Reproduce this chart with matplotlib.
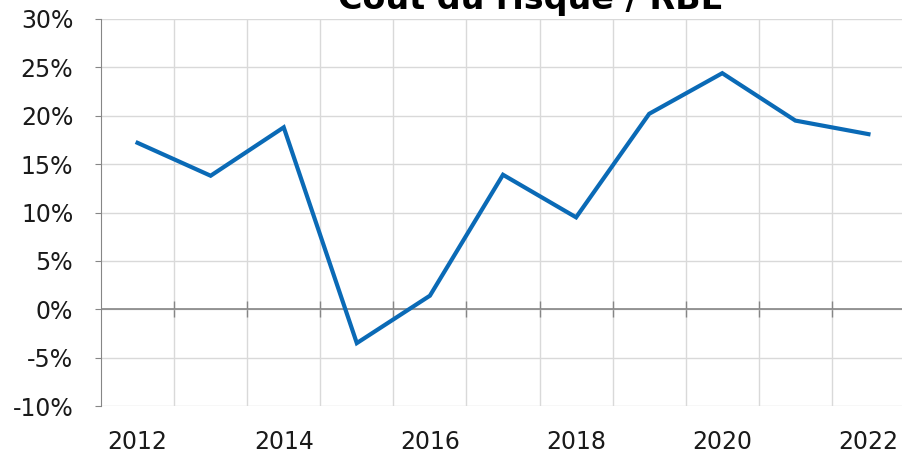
import matplotlib
matplotlib.use("Agg")
import matplotlib.pyplot as plt
import numpy as np

years = [2012, 2013, 2014, 2015, 2016, 2017, 2018, 2019, 2020, 2021, 2022]
values = [17.2, 13.8, 18.8, -3.5, 1.4, 13.9, 9.5, 20.2, 24.4, 19.5, 18.1]
y_ticks = [-10, -5, 0, 5, 10, 15, 20, 25, 30]
title = "Coût du risque / RBE"

W, H = 902, 454
fig = plt.figure(figsize=(W / 100, H / 100), dpi=100)
ax = fig.add_axes([101 / W, 48 / H, (905 - 101) / W, 387 / H])

pos = np.arange(len(years))
ax.plot(pos, values, color="#0a6ab6", lw=3.0, solid_joinstyle="miter", zorder=4)

ax.set_xlim(-0.5, len(years) - 0.5)
ax.set_ylim(y_ticks[0], y_ticks[-1])

grid_c = "#d9d9d9"
ax.set_yticks(y_ticks)
ax.set_yticklabels([f"{t}%" for t in y_ticks])
ax.yaxis.grid(True, color=grid_c, lw=1.0)
bounds = pos[:-1] + 0.5
for b in bounds:
    ax.axvline(b, color=grid_c, lw=1.0, zorder=0)
ax.set_axisbelow(True)
ax.axhline(0, color="#868686", lw=1.2, zorder=2)

for s in ["top", "right", "bottom"]:
    ax.spines[s].set_visible(False)
ax.spines["left"].set_color("#868686")
ax.tick_params(axis="y", length=4, color="#868686", pad=16, labelsize=17, labelcolor="#1a1a1a")

ax.set_xticks(pos[::2])
ax.set_xticklabels([str(y) for y in years[::2]])
ax.tick_params(axis="x", length=0, pad=17, labelsize=17, labelcolor="#1a1a1a")

# zero axis with cross ticks at category boundaries
zero_frac = (0 - y_ticks[0]) / (y_ticks[-1] - y_ticks[0])
sec = ax.secondary_xaxis(zero_frac)
sec.set_xticks(bounds)
sec.set_xticklabels([])
sec.tick_params(axis="x", direction="inout", length=12, width=1.0, color="#868686")
for s in sec.spines.values():
    s.set_visible(False)

fig.text(531 / W, 1 - 9 / H, title, ha="center", va="baseline", fontsize=24, fontweight="bold", color="black")

fig.savefig("out.png", dpi=100)
